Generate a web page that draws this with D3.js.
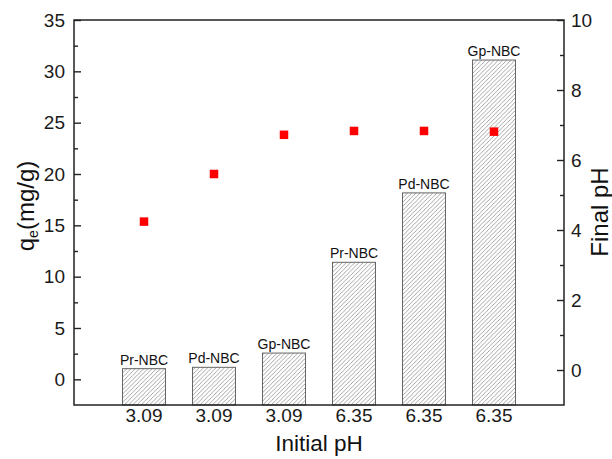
<!DOCTYPE html>
<html>
<head>
<meta charset="utf-8">
<script src="https://cdn.jsdelivr.net/npm/d3@7"></script>
<style>
  html, body { margin: 0; padding: 0; background: #fff; }
  svg { display: block; font-family: "Liberation Sans", Arial, sans-serif; }
</style>
</head>
<body>
<svg id="chart" width="612" height="459"></svg>
<script>
// Adsorbent samples, one bar per sample/initial-pH pair
const samples = ["Pr-NBC", "Pd-NBC", "Gp-NBC", "Pr-NBC", "Pd-NBC", "Gp-NBC"];
const initialPH = ["3.09", "3.09", "3.09", "6.35", "6.35", "6.35"];
// Adsorption capacity q_e (mg/g), left axis
const qe = [1.04, 1.17, 2.56, 11.4, 18.16, 31.1];
// Final solution pH, right axis
const finalPH = [4.24, 5.6, 6.72, 6.83, 6.83, 6.81];
// Axis ticks
const leftTicks = [0, 5, 10, 15, 20, 25, 30, 35];
const leftMinor = [2.5, 7.5, 12.5, 17.5, 22.5, 27.5, 32.5];
const rightTicks = [0, 2, 4, 6, 8, 10];
const rightMinor = [1, 3, 5, 7, 9];

const svg = d3.select("#chart");
const m = { left: 74, right: 564, top: 20, bottom: 405 };
const ids = d3.range(samples.length);

const x = d3.scaleBand()
  .domain(ids)
  .range([m.left, m.right])
  .paddingInner(0.386)
  .paddingOuter(0.693);
const yL = d3.scaleLinear().domain([-2.5, 35]).range([m.bottom, m.top]);
const yR = d3.scaleLinear().domain([-1, 10]).range([m.bottom, m.top]);

// Diagonal hatch fill for the bars
const defs = svg.append("defs");
defs.append("pattern")
  .attr("id", "hatch")
  .attr("patternUnits", "userSpaceOnUse")
  .attr("width", 4.2).attr("height", 4.2)
  .append("path")
  .attr("d", "M-1,1.1 l2.1,-2.1 M0,4.2 l4.2,-4.2 M3.15,5.25 l2.1,-2.1")
  .attr("stroke", "#8a8a8a")
  .attr("stroke-width", 0.75);

// Bars
svg.append("g").selectAll("rect")
  .data(ids)
  .join("rect")
  .attr("x", i => x(i))
  .attr("width", x.bandwidth())
  .attr("y", i => yL(qe[i]))
  .attr("height", i => m.bottom - yL(qe[i]))
  .attr("fill", "url(#hatch)")
  .attr("stroke", "#666")
  .attr("stroke-width", 1);

// Sample names above the bars
svg.append("g").selectAll("text")
  .data(ids)
  .join("text")
  .attr("x", i => x(i) + x.bandwidth() / 2)
  .attr("y", i => yL(qe[i]) - 4)
  .attr("text-anchor", "middle")
  .attr("font-size", 14)
  .attr("fill", "#111")
  .text(i => samples[i]);

// Final pH markers
const ms = 8.5;
svg.append("g").selectAll("rect")
  .data(ids)
  .join("rect")
  .attr("x", i => x(i) + x.bandwidth() / 2 - ms / 2)
  .attr("y", i => yR(finalPH[i]) - ms / 2)
  .attr("width", ms).attr("height", ms)
  .attr("fill", "#ff0000");

// Axes
const styleAxis = g => {
  g.select(".domain").remove();
  g.selectAll("line").attr("stroke", "#222").attr("stroke-width", 1.4);
  g.selectAll("text").attr("font-size", 19).attr("fill", "#1a1a1a")
    .attr("font-family", "Liberation Sans, Arial, sans-serif");
};

svg.append("g")
  .attr("transform", `translate(${m.left},0)`)
  .call(d3.axisLeft(yL).tickValues(leftTicks).tickSize(-7).tickPadding(9))
  .call(styleAxis);
svg.append("g")
  .attr("transform", `translate(${m.left},0)`)
  .call(d3.axisLeft(yL).tickValues(leftMinor).tickSize(-4).tickFormat(""))
  .call(styleAxis);

svg.append("g")
  .attr("transform", `translate(${m.right},0)`)
  .call(d3.axisRight(yR).tickValues(rightTicks).tickSize(-7).tickPadding(7))
  .call(styleAxis);
svg.append("g")
  .attr("transform", `translate(${m.right},0)`)
  .call(d3.axisRight(yR).tickValues(rightMinor).tickSize(-4).tickFormat(""))
  .call(styleAxis);

svg.append("g")
  .attr("transform", `translate(0,${m.bottom})`)
  .call(d3.axisBottom(x).tickSize(0).tickPadding(4).tickFormat(i => initialPH[i]))
  .call(styleAxis);

// Frame
svg.append("rect")
  .attr("x", m.left).attr("y", m.top)
  .attr("width", m.right - m.left).attr("height", m.bottom - m.top)
  .attr("fill", "none")
  .attr("stroke", "#222")
  .attr("stroke-width", 1.5);

// Axis titles
svg.append("text")
  .attr("x", (m.left + m.right) / 2)
  .attr("y", 451)
  .attr("text-anchor", "middle")
  .attr("font-size", 22.5)
  .attr("fill", "#111")
  .text("Initial pH");

const yTitle = svg.append("text")
  .attr("transform", "translate(33.5,206) rotate(-90)")
  .attr("text-anchor", "middle")
  .attr("font-size", 24)
  .attr("fill", "#111");
yTitle.append("tspan").text("q");
yTitle.append("tspan").attr("font-size", 14).attr("dy", 4).text("e");
yTitle.append("tspan").attr("dy", -4).text("(mg/g)");

svg.append("text")
  .attr("transform", "translate(608,212) rotate(-90)")
  .attr("text-anchor", "middle")
  .attr("font-size", 24)
  .attr("fill", "#111")
  .text("Final pH");
</script>
</body>
</html>
